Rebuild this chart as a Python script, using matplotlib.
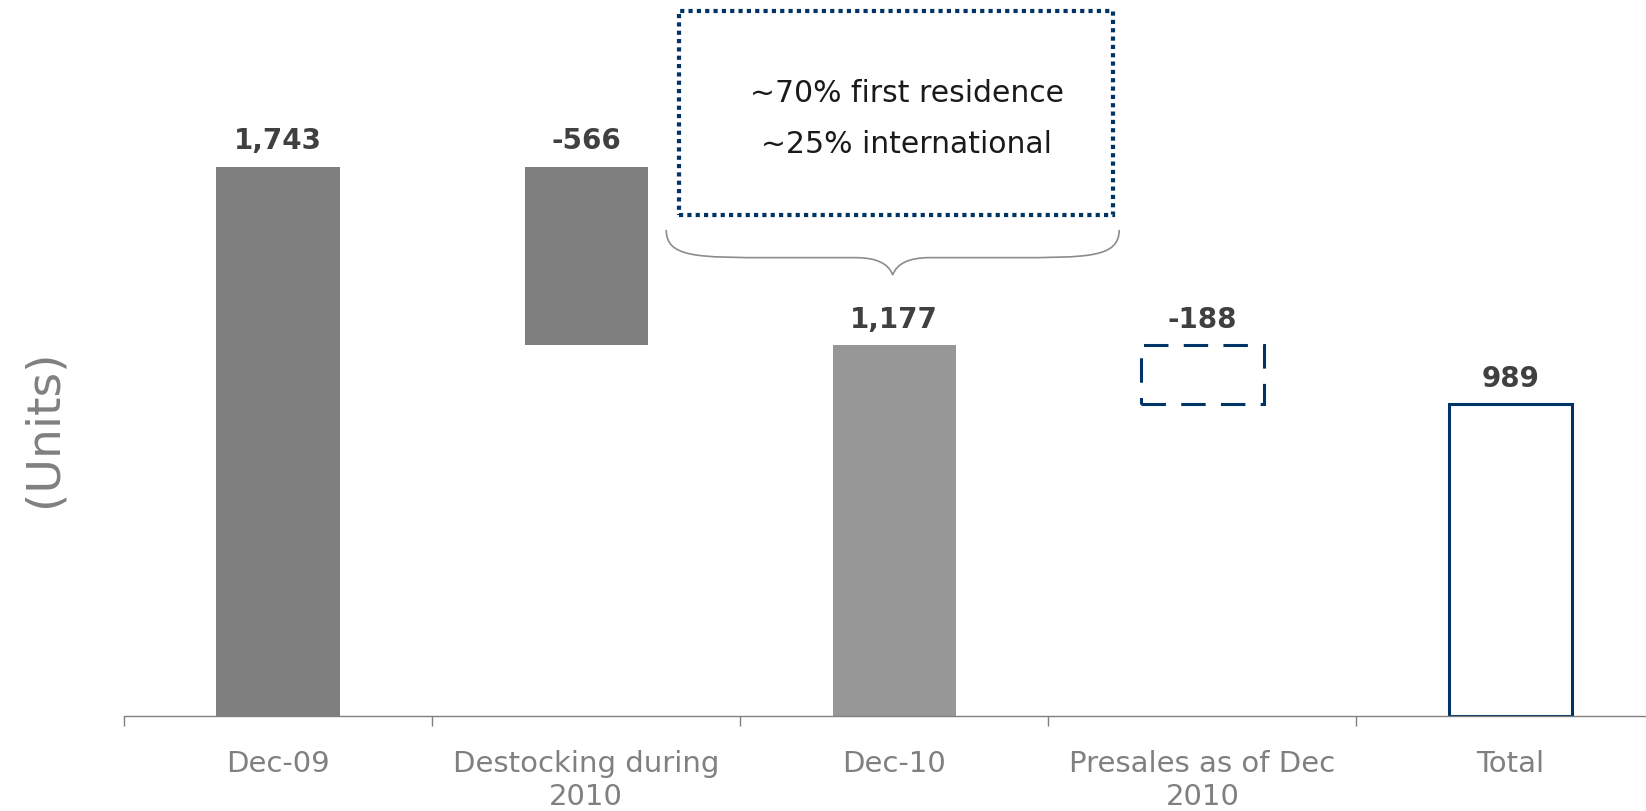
import matplotlib.pyplot as plt
from matplotlib.patches import Rectangle, PathPatch
from matplotlib.path import Path

plt.rcParams["font.family"] = ["DejaVu Sans"]

# Inventory bridge, in units
categories = ["Dec-09", "Destocking during\n2010", "Dec-10",
              "Presales as of Dec\n2010", "Total"]
values = [1743, -566, 1177, -188, 989]
kinds = ["total", "delta", "total", "delta", "total"]
box_lines = ["~70% first residence", "~25% international"]

NAVY = "#003366"
GREY_AXIS = "#808080"
LABEL_COL = "#404040"

fig = plt.figure(figsize=(16.46, 8.12), dpi=100)
ax = fig.add_axes([124 / 1646, 95 / 812, 1 - 124 / 1646, 717 / 812])

# waterfall: bottoms of the floating bars come from the running level
level = 0
bottoms, heights = [], []
for v, k in zip(values, kinds):
    if k == "total":
        bottoms.append(0)
        heights.append(v)
        level = v
    else:
        bottoms.append(level + v)
        heights.append(-v)
        level = level + v

x = list(range(len(categories)))
width = 0.4
face = ["#7f7f7f", "#7f7f7f", "#979797", "white", "white"]
edge = ["#7f7f7f", "#7f7f7f", "#979797", NAVY, NAVY]
styles = ["solid", "solid", "solid", (0, (8, 5)), "solid"]
lws = [0, 0, 0, 2.2, 2.2]

for i in x:
    ax.bar(i, heights[i], width, bottom=bottoms[i], color=face[i],
           edgecolor=edge[i], linewidth=lws[i], linestyle=styles[i],
           zorder=2)
    top = bottoms[i] + heights[i]
    ax.annotate(f"{values[i]:,}", (i, top), xytext=(0, 9),
                textcoords="offset points", ha="center", va="bottom",
                fontsize=20, fontweight="bold", color=LABEL_COL)

ax.set_xlim(-0.5, 4.44)
ax.set_ylim(0, 2276)

for s in ["top", "right", "left"]:
    ax.spines[s].set_visible(False)
ax.spines["bottom"].set_color(GREY_AXIS)
ax.spines["bottom"].set_linewidth(1.0)
ax.set_yticks([])

# boundary ticks between categories, labels at the centres
ax.set_xticks([i - 0.5 for i in x])
ax.set_xticklabels([])
ax.tick_params(axis="x", which="major", length=7, width=1.0, color=GREY_AXIS)
ax.set_xticks(x, minor=True)
ax.set_xticklabels(categories, minor=True, fontsize=21, color=GREY_AXIS,
                   linespacing=1.2)
ax.tick_params(axis="x", which="minor", length=0, pad=24)

fig.text(44 / 1646, 1 - 428 / 812, "(Units)", rotation=90, ha="center",
         va="center", fontsize=34, color=GREY_AXIS)

# dotted call-out box over the destocking bridge
bx0, bx1, by0, by1 = 1.30, 2.71, 1591, 2238
ax.add_patch(Rectangle((bx0, by0), bx1 - bx0, by1 - by0, fill=False,
                       edgecolor=NAVY, linewidth=3.0,
                       linestyle=(0, (1, 1)), zorder=3, clip_on=False))
ax.text((bx0 + bx1) / 2 + 0.035, 1898, box_lines[0] + "\n" + box_lines[1],
        ha="center", va="center", fontsize=21.5, color="#1a1a1a",
        linespacing=1.93)

# curly brace under the box
l, r, yt, yb = 1.26, 2.73, 1543, 1400
m = (l + r) / 2
ym = 1455
verts = [(l, yt), (l, ym), (l + 0.1, ym), (l + 0.35, ym),
         (m - 0.12, ym), (m - 0.02, ym), (m, yb),
         (m + 0.02, ym), (m + 0.12, ym), (r - 0.35, ym),
         (r - 0.1, ym), (r, ym), (r, yt)]
codes = [Path.MOVETO, Path.CURVE4, Path.CURVE4, Path.CURVE4,
         Path.LINETO, Path.CURVE3, Path.CURVE3,
         Path.CURVE3, Path.CURVE3, Path.LINETO,
         Path.CURVE4, Path.CURVE4, Path.CURVE4]
ax.add_patch(PathPatch(Path(verts, codes), fill=False, edgecolor="#8c8c8c",
                       linewidth=1.2, zorder=3))

fig.savefig("out.png", dpi=100)
